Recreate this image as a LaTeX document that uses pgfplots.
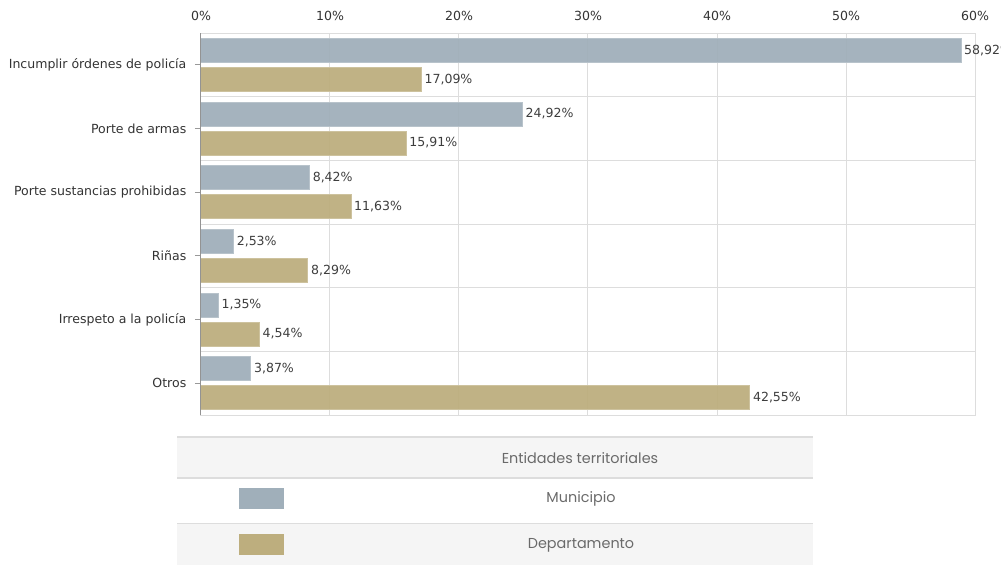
\documentclass[border=0pt]{standalone}
\usepackage{pgfplots}
\pgfplotsset{compat=1.18}
\usepackage{fontspec}
\setmainfont{DejaVu Sans}
\newfontfamily\legfont{Poppins}
\definecolor{muni}{HTML}{A0AFBA}
\definecolor{depto}{HTML}{BDAE7E}
\definecolor{gridc}{HTML}{DDDDDD}
\definecolor{txt}{HTML}{333333}
\definecolor{legbg}{HTML}{F5F5F5}
\definecolor{legtxt}{HTML}{6A6A6A}

\begin{document}
\begin{tikzpicture}
\useasboundingbox (0,0) rectangle (750.75pt,-423.75pt);
\begin{axis}[
  at={(150.75pt,-24.75pt)}, anchor=north west,
  scale only axis, width=580.5pt, height=286.5pt,
  xbar, bar width=18pt,
  xmin=0, xmax=60, ymin=-0.5, ymax=5.5,
  xtick={0,10,...,60},
  xticklabel pos=upper,
  ytick pos=left,
  /pgf/number format/assume math mode=true,
  xticklabel={\pgfmathprintnumber{\tick}\%},
  xticklabel style={font=\fontsize{9.4}{11}\selectfont, text=txt, yshift=1.5pt},
  ytick={0,...,5},
  yticklabels={Otros,Irrespeto a la policía,Riñas,Porte sustancias prohibidas,Porte de armas,Incumplir órdenes de policía},
  yticklabel style={font=\fontsize{9.4}{11}\selectfont, text=txt, xshift=-3pt},
  minor ytick={-0.5,0.5,...,5.5},
  xmajorgrids, yminorgrids,
  grid style={gridc, line width=0.75pt},
  axis line style={gridc, line width=0.75pt},
  major x tick style={draw=none},
  minor tick length=0pt,
  major tick length=4.5pt,
  tick align=outside,
  major y tick style={draw=gray!80, line width=0.75pt},
  point meta=x,
  nodes near coords={\pgfmathprintnumber[fixed,fixed zerofill,precision=2,use comma,assume math mode=true]{\pgfplotspointmeta}\%},
  nodes near coords style={font=\fontsize{9.4}{11}\selectfont, text=txt, anchor=west, inner sep=2pt},
  clip=false,
]
\addplot[fill=muni, draw=muni!75!white, line width=0.75pt, fill opacity=0.95, bar shift=10.875pt] coordinates {
  (58.92,5) (24.92,4) (8.42,3) (2.53,2) (1.35,1) (3.87,0)};
\addplot[fill=depto, draw=depto!75!white, line width=0.75pt, fill opacity=0.95, bar shift=-10.875pt] coordinates {
  (17.09,5) (15.91,4) (11.63,3) (8.29,2) (4.54,1) (42.55,0)};
\draw[gray!85, line width=0.75pt] (rel axis cs:0,0) -- (rel axis cs:0,1);
\end{axis}
\begin{scope}[x=0.75pt,y=-0.75pt]
  \fill[legbg] (177,437) rectangle (813,478);
  \fill[legbg] (177,524) rectangle (813,565);
  \draw[gridc, line width=1.2pt] (177,437) -- (813,437);
  \draw[gridc, line width=1.2pt] (177,478) -- (813,478);
  \draw[gridc, line width=1.2pt] (177,523.5) -- (813,523.5);
  \fill[muni] (239,488) rectangle (284,509);
  \fill[depto] (239,534) rectangle (284,555);
  \node[font=\legfont\fontsize{10.8}{12}\selectfont, text=legtxt] at (580,458) {Entidades territoriales};
  \node[font=\legfont\fontsize{10.8}{12}\selectfont, text=legtxt] at (581,498.5) {Municipio};
  \node[font=\legfont\fontsize{10.8}{12}\selectfont, text=legtxt] at (581,545) {Departamento};
\end{scope}
\end{tikzpicture}
\end{document}
